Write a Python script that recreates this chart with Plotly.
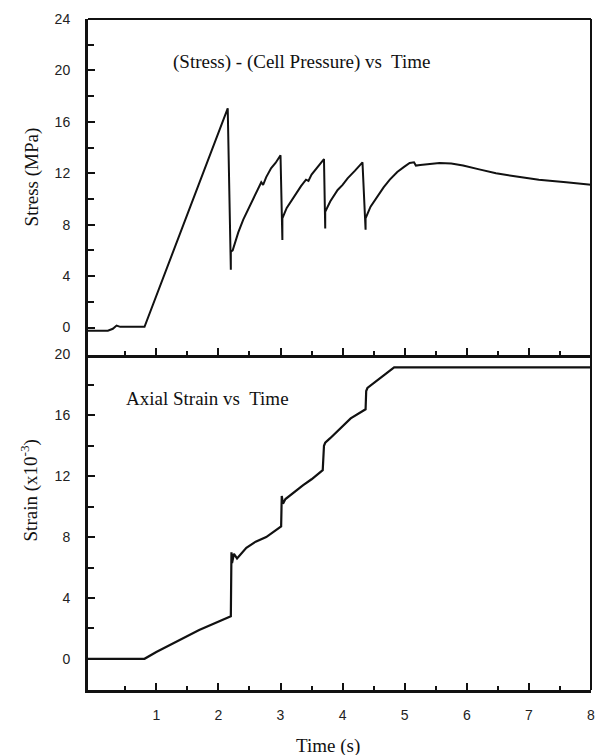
import plotly.graph_objects as go

# ---- data ----
stress_t = [-0.1, 0.22, 0.30, 0.36, 0.42, 0.81, 2.15, 2.20, 2.20, 2.23, 2.32, 2.40, 2.53, 2.62,
            2.69, 2.72, 2.77, 2.85, 2.92, 3.00, 3.03, 3.03, 3.10, 3.23, 3.33, 3.41, 3.45, 3.50,
            3.60, 3.70, 3.72, 3.72, 3.80, 3.92, 4.00, 4.08, 4.20, 4.32, 4.37, 4.37, 4.45, 4.56,
            4.66, 4.76, 4.88, 4.99, 5.08, 5.15, 5.18, 5.25, 5.40, 5.56, 5.75, 5.94, 6.20, 6.47,
            6.80, 7.16, 7.60, 8.0]
stress_v = [-0.25, -0.25, -0.1, 0.15, 0.05, 0.05, 17.05, 4.5, 5.9, 6.0, 7.4, 8.4, 9.7, 10.6,
            11.3, 11.1, 11.7, 12.4, 12.8, 13.4, 6.8, 8.5, 9.3, 10.3, 11.0, 11.5, 11.4, 11.9,
            12.5, 13.1, 7.7, 9.0, 9.8, 10.7, 11.1, 11.6, 12.2, 12.85, 7.6, 8.5, 9.4, 10.2,
            10.9, 11.5, 12.1, 12.5, 12.8, 12.85, 12.6, 12.65, 12.75, 12.8, 12.75, 12.6, 12.3, 12.0,
            11.75, 11.5, 11.3, 11.1]

strain_t = [-0.1, 0.81, 1.0, 1.69, 2.20, 2.21, 2.22, 2.25, 2.30, 2.45, 2.60, 2.77, 2.90, 3.01,
            3.02, 3.04, 3.08, 3.20, 3.36, 3.50, 3.68, 3.70, 3.72, 3.80, 4.13, 4.37, 4.38, 4.40,
            4.60, 4.83, 8.0]
strain_v = [0.0, 0.0, 0.45, 1.9, 2.8, 7.0, 6.3, 6.9, 6.6, 7.3, 7.7, 8.0, 8.4, 8.7,
            10.7, 10.2, 10.5, 10.9, 11.4, 11.8, 12.4, 14.0, 14.2, 14.5, 15.8, 16.4, 17.6, 17.8,
            18.4, 19.15, 19.15]

x_major = [1, 2, 3, 4, 5, 6, 7, 8]
x_minor = [0.5, 1.5, 2.5, 3.5, 4.5, 5.5, 6.5, 7.5]
stress_major = [0, 4, 8, 12, 16, 20, 24]
stress_minor = [2, 6, 10, 14, 18, 22]
strain_major = [0, 4, 8, 12, 16, 20]
strain_minor = [2, 6, 10, 14, 18]

SERIF = "Liberation Serif, Times New Roman, serif"
SANS = "Liberation Sans, Arial, sans-serif"
INK = "#111111"

fig = go.Figure()
fig.add_trace(go.Scatter(x=stress_t, y=stress_v, mode="lines", xaxis="x", yaxis="y",
                         line=dict(color=INK, width=2), showlegend=False))
fig.add_trace(go.Scatter(x=strain_t, y=strain_v, mode="lines", xaxis="x2", yaxis="y2",
                         line=dict(color=INK, width=2.2), showlegend=False))

axis_common = dict(showline=True, linewidth=3, linecolor=INK, ticks="inside", ticklen=7,
                   tickwidth=1.5, tickcolor=INK, showgrid=False, zeroline=False,
                   tickfont=dict(family=SANS, size=14, color="#222222"))

fig.update_layout(
    width=606, height=755,
    margin=dict(l=88, r=11, t=19, b=65),
    paper_bgcolor="white", plot_bgcolor="white",
    xaxis=dict(axis_common, domain=[0, 1], range=[-0.1, 8], anchor="y",
               tickmode="array", tickvals=x_major, showticklabels=False,
               minor=dict(ticks="inside", ticklen=4, tickwidth=1.5, tickcolor=INK, tickvals=x_minor)),
    yaxis=dict(axis_common, domain=[0.5, 1], range=[-2.1, 24], anchor="x",
               tickmode="array", tickvals=stress_major, ticklabelstandoff=12,
               minor=dict(ticks="inside", ticklen=6, tickwidth=1.5, tickcolor=INK, tickvals=stress_minor)),
    xaxis2=dict(axis_common, domain=[0, 1], range=[-0.1, 8], anchor="y2",
                tickmode="array", tickvals=x_major, ticklabelstandoff=10,
                minor=dict(ticks="inside", ticklen=4, tickwidth=1.5, tickcolor=INK, tickvals=x_minor)),
    yaxis2=dict(axis_common, domain=[0, 0.5], range=[-2.05, 20], anchor="x2",
                tickmode="array", tickvals=strain_major, ticklabelstandoff=12,
                minor=dict(ticks="inside", ticklen=6, tickwidth=1.5, tickcolor=INK, tickvals=strain_minor)),
    shapes=[
        dict(type="line", xref="paper", yref="paper", x0=0, x1=1, y0=1, y1=1,
             line=dict(color=INK, width=2)),
        dict(type="line", xref="paper", yref="paper", x0=1, x1=1, y0=0, y1=1,
             line=dict(color=INK, width=2)),
    ],
    annotations=[
        dict(text="(Stress) - (Cell Pressure) vs\u00a0 Time", xref="x", yref="y", x=1.24, y=20.66,
             xanchor="left", yanchor="middle", showarrow=False,
             font=dict(family=SERIF, size=19, color=INK)),
        dict(text="Axial Strain vs\u00a0 Time", xref="x2", yref="y2", x=0.475, y=17.1,
             xanchor="left", yanchor="middle", showarrow=False,
             font=dict(family=SERIF, size=19, color=INK)),
        dict(text="Stress (MPa)", xref="paper", yref="paper", x=(32 - 88) / 507, y=(690 - 177) / 671,
             xanchor="center", yanchor="middle", textangle=-90, showarrow=False,
             font=dict(family=SERIF, size=19, color=INK)),
        dict(text="Strain (x10<sup>-3</sup>)", xref="paper", yref="paper", x=(30 - 88) / 507,
             y=(690 - 490) / 671, xanchor="center", yanchor="middle", textangle=-90, showarrow=False,
             font=dict(family=SERIF, size=19, color=INK)),
        dict(text="Time (s)", xref="paper", yref="paper", x=(330 - 88) / 507, y=(690 - 746) / 671,
             xanchor="center", yanchor="middle", showarrow=False,
             font=dict(family=SERIF, size=19, color=INK)),
    ],
)

fig.write_html("out.html")
